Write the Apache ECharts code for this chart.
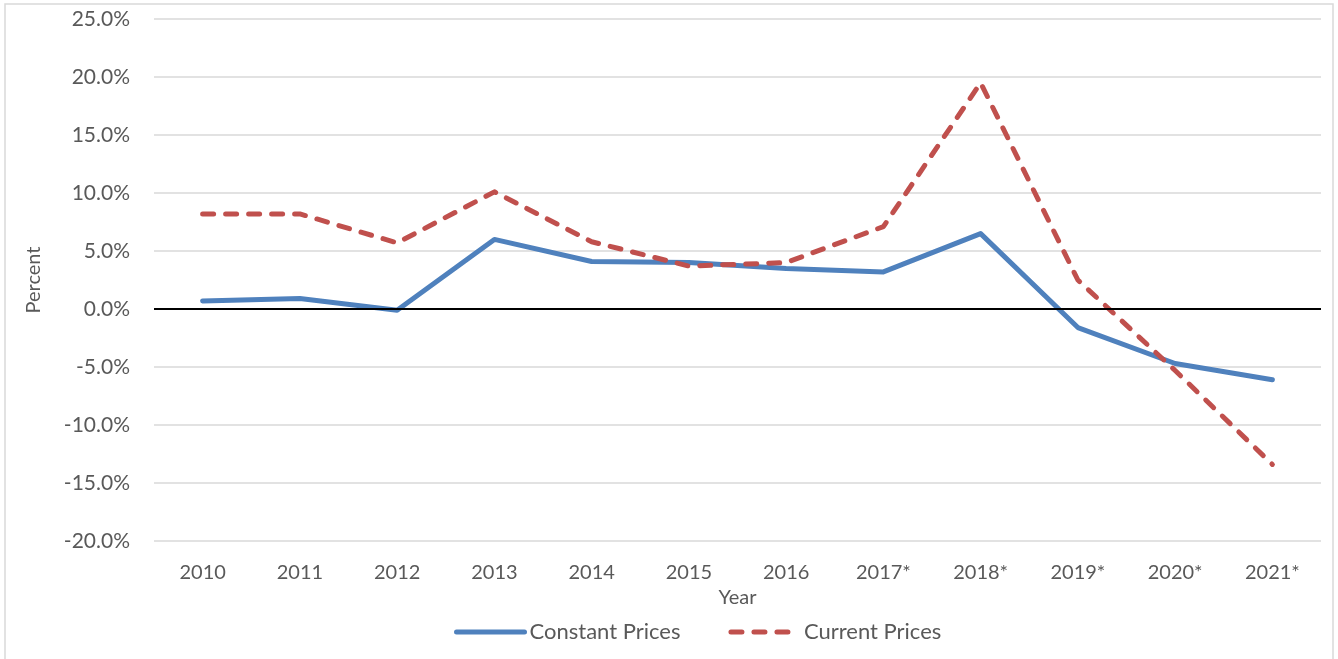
<!DOCTYPE html>
<html>
<head>
<meta charset="utf-8">
<script src="https://cdn.jsdelivr.net/npm/echarts@6/dist/echarts.min.js"></script>
<style>
  html, body { margin: 0; padding: 0; background: #fff; }
  #chart { width: 1338px; height: 659px; }
</style>
</head>
<body>
<div id="chart"></div>
<script>
// Data
const years = ['2010', '2011', '2012', '2013', '2014', '2015', '2016', '2017*', '2018*', '2019*', '2020*', '2021*'];
const constantPrices = [0.7, 0.9, -0.1, 6.0, 4.1, 4.0, 3.5, 3.2, 6.5, -1.6, -4.7, -6.1];
const currentPrices = [8.2, 8.2, 5.7, 10.1, 5.8, 3.7, 4.0, 7.1, 19.5, 2.5, -5.3, -13.4];
const yTicks = { min: -20, max: 25, step: 5 };

const chartDom = document.getElementById('chart');
const chart = echarts.init(chartDom);
const font = 'Lato, "Open Sans", sans-serif';
const grey = '#595959';

const option = {
  animation: false,
  textStyle: { fontFamily: font },
  graphic: [
    {
      type: 'rect',
      shape: { x: 5, y: 4, width: 1328, height: 660 },
      style: { fill: 'none', stroke: '#d9d9d9', lineWidth: 1.5 },
      silent: true
    }
  ],
  grid: { left: 154, right: 17, top: 19, bottom: 118 },
  legend: {
    left: 449,
    top: 616,
    itemWidth: 68,
    itemHeight: 14,
    itemGap: 48,
    itemStyle: { opacity: 0 },
    lineStyle: { width: 5 },
    textStyle: { fontSize: 22, color: grey, fontFamily: font },
    data: ['Constant Prices', 'Current Prices']
  },
  xAxis: {
    type: 'category',
    data: years,
    boundaryGap: true,
    name: 'Year',
    nameLocation: 'middle',
    nameGap: 47,
    nameTextStyle: { fontSize: 20, color: grey },
    axisLine: { show: false, onZero: false },
    axisTick: { show: false },
    axisLabel: { fontSize: 20, color: grey, margin: 22 },
    splitLine: { show: false }
  },
  yAxis: {
    type: 'value',
    min: yTicks.min,
    max: yTicks.max,
    interval: yTicks.step,
    name: 'Percent',
    nameLocation: 'middle',
    nameRotate: 90,
    nameGap: 110,
    nameTextStyle: { fontSize: 20, color: grey },
    axisLine: { show: false },
    axisTick: { show: false },
    axisLabel: {
      fontSize: 21,
      color: grey,
      margin: 24,
      formatter: v => v.toFixed(1) + '%'
    },
    splitLine: { lineStyle: { color: '#d9d9d9', width: 1.5 } }
  },
  series: [
    {
      name: 'Constant Prices',
      type: 'line',
      data: constantPrices,
      symbol: 'none',
      lineStyle: { color: '#4f81bd', width: 5, cap: 'round', join: 'round' },
      itemStyle: { color: '#4f81bd' },
      z: 3,
      markLine: {
        silent: true,
        symbol: 'none',
        label: { show: false },
        lineStyle: { color: '#000', width: 1.8, type: 'solid' },
        data: [{ yAxis: 0 }]
      }
    },
    {
      name: 'Current Prices',
      type: 'line',
      data: currentPrices,
      symbol: 'none',
      lineStyle: { color: '#c0504d', width: 5, type: [11, 12], cap: 'round', join: 'round' },
      itemStyle: { color: '#c0504d' },
      z: 4
    }
  ]
};

chart.setOption(option);
window.addEventListener('resize', function () {
  chart.resize();
});
</script>
</body>
</html>
